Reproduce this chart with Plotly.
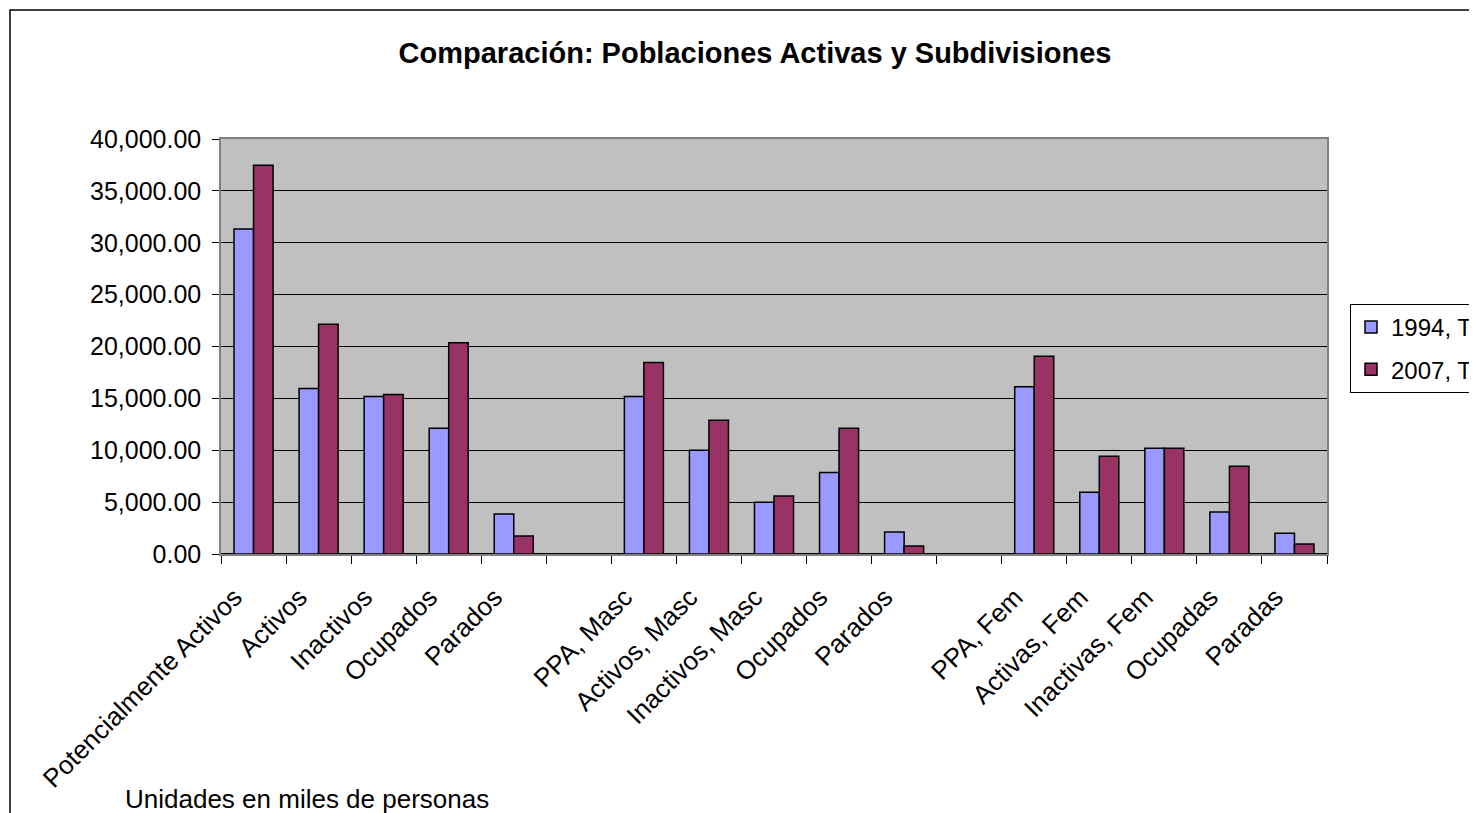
import plotly.graph_objects as go

categories = [
    "Potencialmente Activos", "Activos", "Inactivos", "Ocupados", "Parados", "",
    "PPA, Masc", "Activos, Masc", "Inactivos, Masc", "Ocupados", "Parados", "",
    "PPA, Fem", "Activas, Fem", "Inactivas, Fem", "Ocupadas", "Paradas",
]
values_1994 = [
    31320, 15960, 15190, 12120, 3850, None,
    15190, 10000, 5000, 7850, 2115, None,
    16120, 5960, 10190, 4040, 1990,
]
values_2007 = [
    37470, 22140, 15380, 20360, 1730, None,
    18460, 12880, 5580, 12115, 770, None,
    19070, 9420, 10190, 8460, 960,
]
series_names = ["1994, T1", "2007, T3"]
y_ticks = [0, 5000, 10000, 15000, 20000, 25000, 30000, 35000, 40000]

positions = list(range(len(categories)))
font = "Liberation Sans, Arial, sans-serif"

fig = go.Figure()
fig.add_trace(go.Bar(x=positions, y=values_1994, name=series_names[0], legendgroup="a",
                     marker=dict(color="#9999FF", line=dict(color="black", width=1.5))))
fig.add_trace(go.Bar(x=positions, y=values_2007, name=series_names[1], legendgroup="b",
                     marker=dict(color="#993366", line=dict(color="black", width=1.5))))

# page body has an 8px margin, so the figure is 8px smaller and shifted
fig.update_layout(
    width=1469, height=805,
    margin=dict(l=213, r=150, t=131, b=259, autoexpand=False),
    paper_bgcolor="white", plot_bgcolor="#C0C0C0",
    barmode="group", bargap=0.4, bargroupgap=0,
    font=dict(family=font, size=24, color="black"),
    title=dict(text="<b>Comparación: Poblaciones Activas y Subdivisiones</b>",
               x=(755 - 8) / 1469, xanchor="center", y=1 - 45 / 805, yanchor="middle",
               font=dict(size=29, family=font)),
    legend=dict(x=1.0208, y=0.6024, xanchor="left", yanchor="top",
                bgcolor="white", bordercolor="black", borderwidth=1,
                font=dict(size=24), traceorder="grouped", tracegroupgap=8),
    showlegend=True,
)

fig.update_xaxes(
    range=[-0.5, len(categories) - 0.5],
    tickvals=positions, ticktext=categories, tickangle=-45,
    ticks="", showgrid=False, zeroline=False,
    showline=True, linecolor="#808080", linewidth=1.5, mirror=True,
    tickfont=dict(size=26), ticklabelshift=-19, ticklabelstandoff=16,
    minor=dict(tickvals=[p - 0.5 for p in positions] + [len(categories) - 0.5],
               ticks="outside", ticklen=8, tickcolor="black", tickwidth=1.2, showgrid=False),
)
fig.update_yaxes(
    range=[0, 40000], tickvals=y_ticks, tickformat=",.2f",
    ticks="outside", ticklen=7, tickcolor="black", tickwidth=1.2,
    showgrid=True, gridcolor="black", gridwidth=1,
    zeroline=True, zerolinecolor="black", zerolinewidth=2,
    showline=True, linecolor="#808080", linewidth=1.5, mirror=True,
    tickfont=dict(size=25), ticklabelstandoff=6,
)

# outer chart border (runs off the right and bottom edges)
fig.add_shape(type="rect", xref="paper", yref="paper",
              x0=(10 - 221) / 1106, x1=1.5, y0=-2, y1=(554 - 10) / 415,
              line=dict(color="black", width=1.5), fillcolor="rgba(0,0,0,0)")

fig.add_annotation(text="Unidades en miles de personas", xref="paper", yref="paper",
                   x=(123 - 221) / 1106, y=(554 - 799) / 415, xanchor="left", yanchor="middle",
                   showarrow=False, font=dict(size=26))

fig.write_html("out.html")
